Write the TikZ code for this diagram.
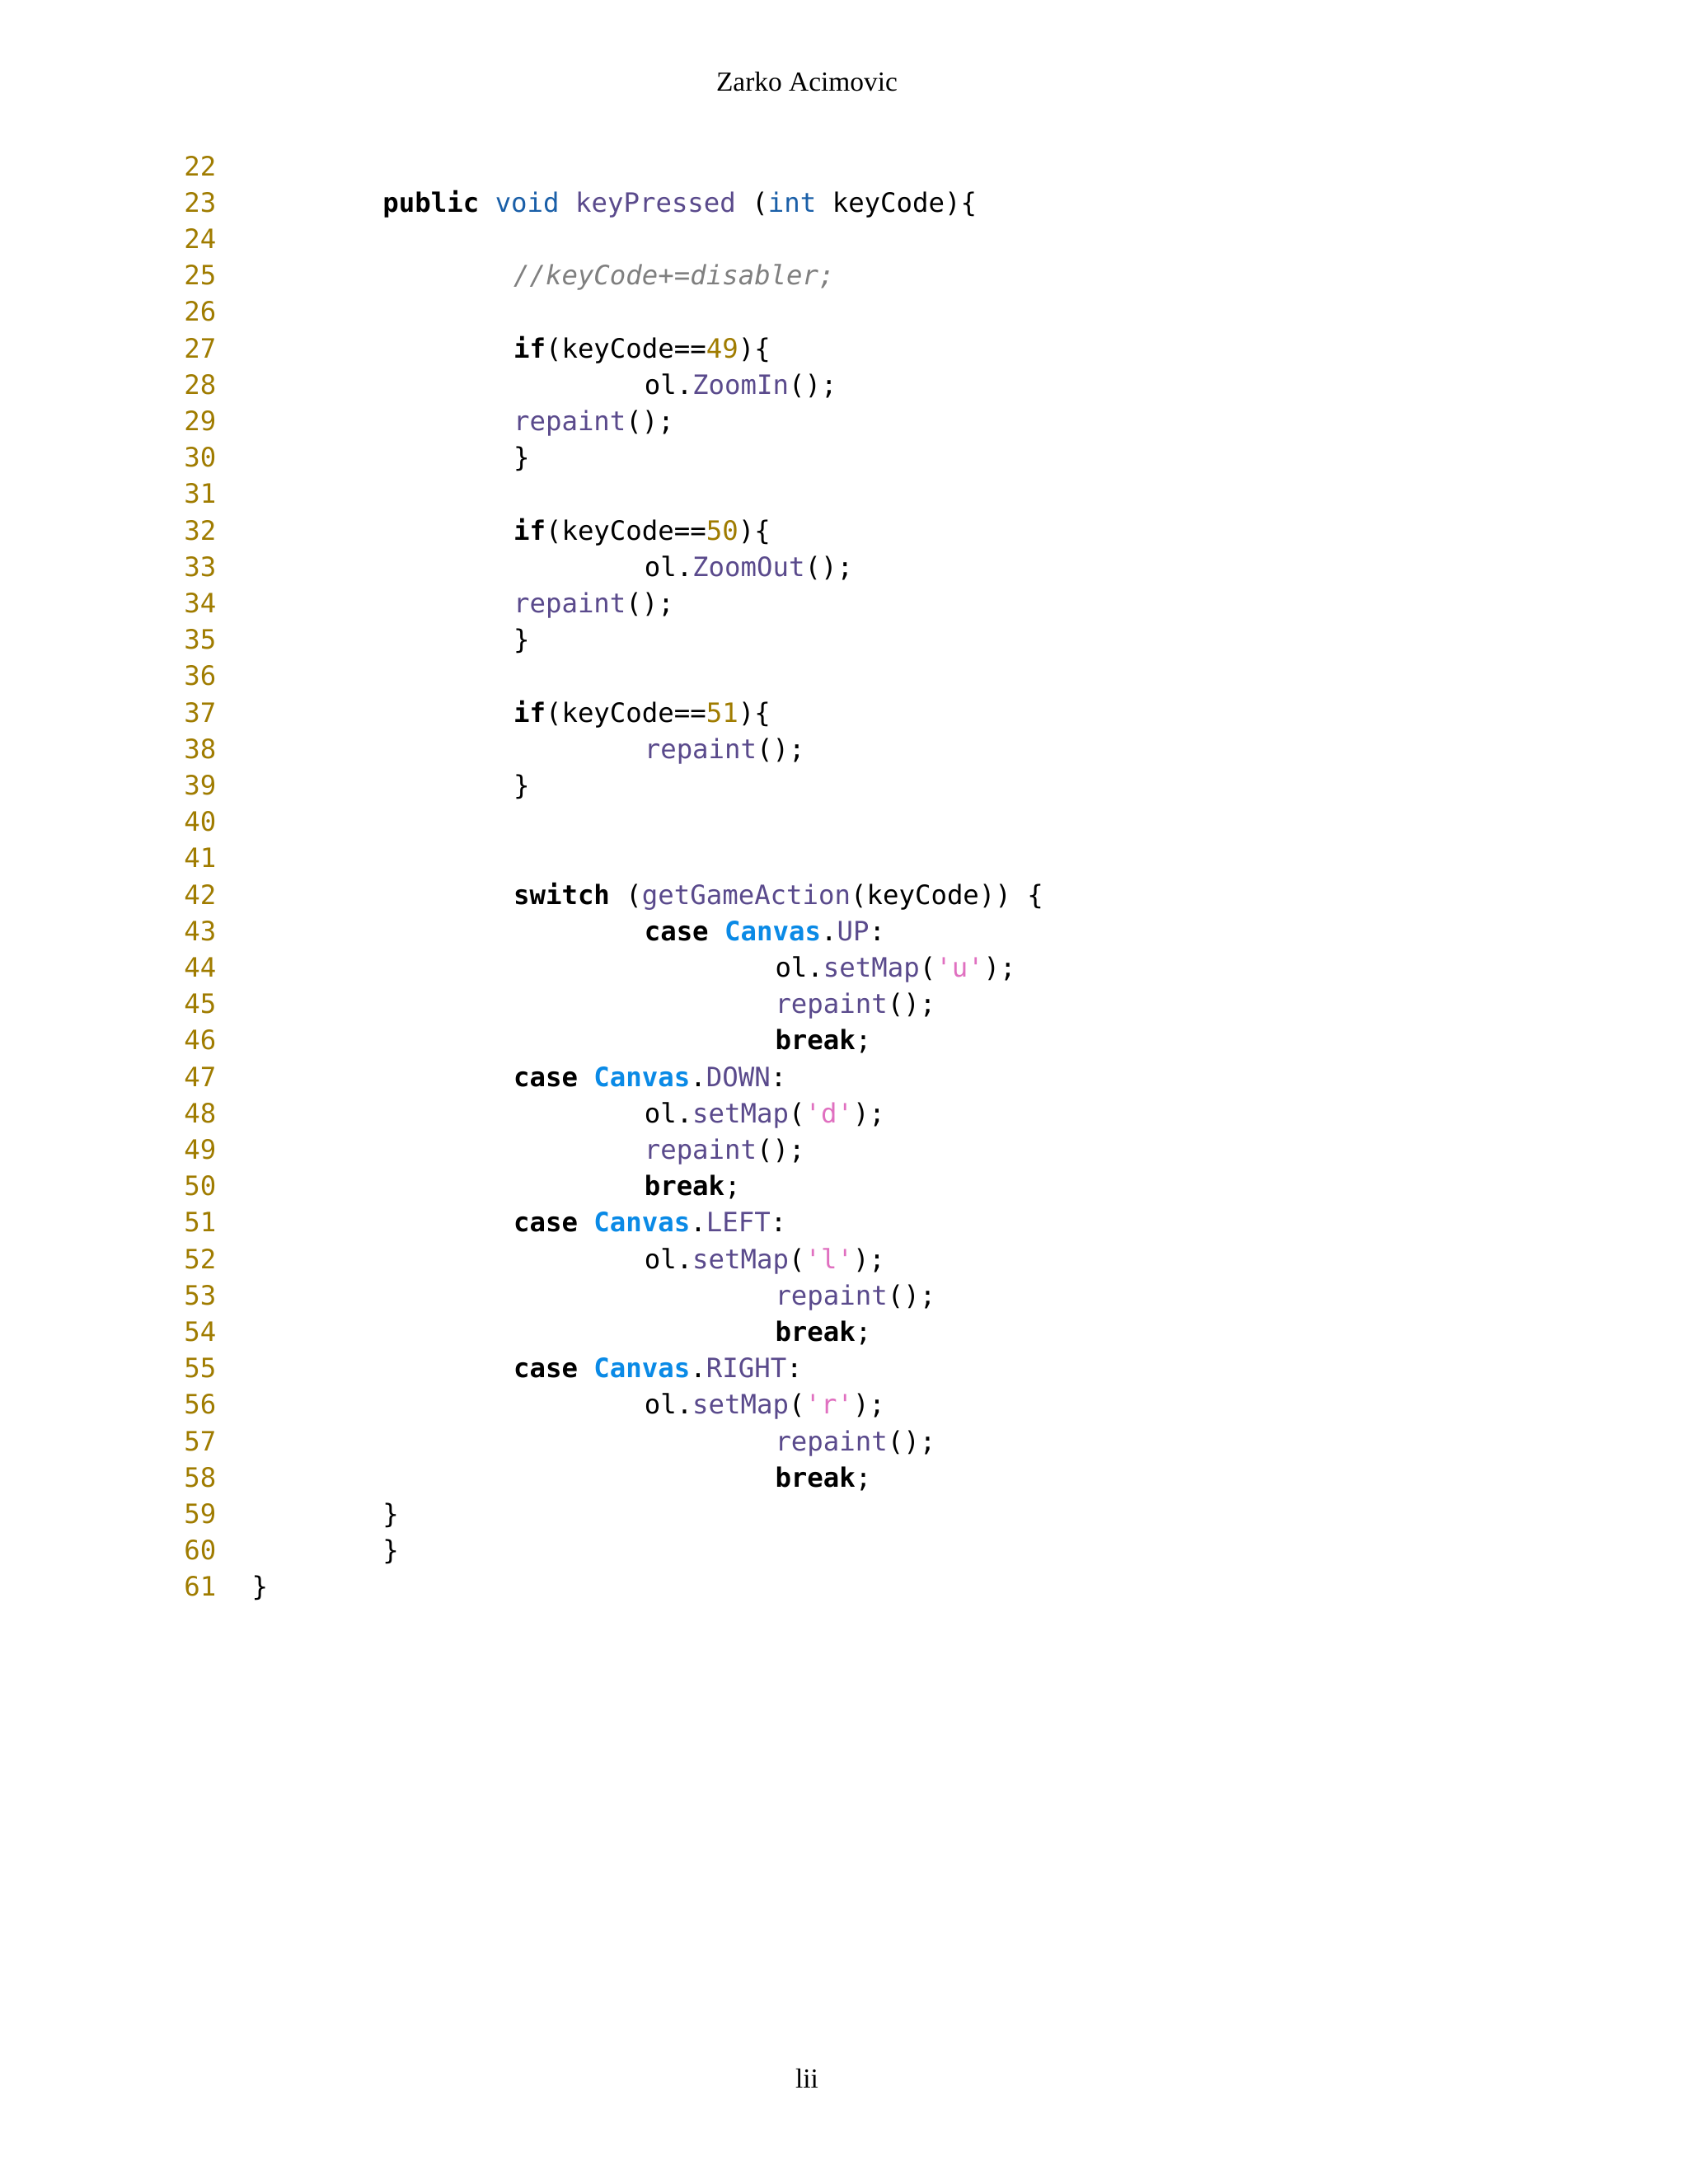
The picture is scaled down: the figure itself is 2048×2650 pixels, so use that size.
\documentclass[tikz,border=0pt]{standalone}
\usepackage{fontspec}
\setmainfont{Liberation Serif}
\newfontfamily\codefont{DejaVu Sans Mono}
\definecolor{lnc}{HTML}{A07C00}
\definecolor{tyc}{HTML}{1A5FA8}
\definecolor{fnc}{HTML}{5A4A8C}
\definecolor{cvc}{HTML}{0A8AE6}
\definecolor{stc}{HTML}{E070C0}
\definecolor{cmc}{HTML}{808080}
\newcommand\ckw[1]{\textbf{#1}}
\newcommand\cty[1]{\textcolor{tyc}{#1}}
\newcommand\cfn[1]{\textcolor{fnc}{#1}}
\newcommand\cnm[1]{\textcolor{lnc}{#1}}
\newcommand\ccv[1]{\textcolor{cvc}{\textbf{#1}}}
\newcommand\cst[1]{\textcolor{stc}{#1}}
\newcommand\ccm[1]{\textcolor{cmc}{\itshape #1}}
\begin{document}
\begin{tikzpicture}[x=0.01cm,y=-0.01cm,
  code/.style={anchor=base west,inner sep=0pt,font=\codefont\fontsize{9.2pt}{11pt}\selectfont},
  lnum/.style={anchor=base east,inner sep=0pt,text=lnc,font=\codefont\fontsize{9.2pt}{11pt}\selectfont},
  serif/.style={anchor=base,inner sep=0pt,font=\fontsize{9.5pt}{11pt}\selectfont}]
\useasboundingbox[fill=white] (0,0) rectangle (2048,2650);
\node[serif] (head) at (979,110) {Zarko Acimovic};
\node[serif] (foot) at (979,2533) {lii};
\foreach \n in {22,...,61}{
  \node[lnum] (n\n) at (263,{213+(\n-22)*44.2}) {\n};
}
\foreach \n/\l/\t in {
 23/1/{\ckw{public} \cty{void} \cfn{keyPressed} (\cty{int} keyCode)\{},
 25/2/{\ccm{//keyCode+=disabler;}},
 27/2/{\ckw{if}(keyCode==\cnm{49})\{},
 28/3/{ol.\cfn{ZoomIn}();},
 29/2/{\cfn{repaint}();},
 30/2/{\}},
 32/2/{\ckw{if}(keyCode==\cnm{50})\{},
 33/3/{ol.\cfn{ZoomOut}();},
 34/2/{\cfn{repaint}();},
 35/2/{\}},
 37/2/{\ckw{if}(keyCode==\cnm{51})\{},
 38/3/{\cfn{repaint}();},
 39/2/{\}},
 42/2/{\ckw{switch} (\cfn{getGameAction}(keyCode)) \{},
 43/3/{\ckw{case} \ccv{Canvas}.\cfn{UP}:},
 44/4/{ol.\cfn{setMap}(\cst{'u'});},
 45/4/{\cfn{repaint}();},
 46/4/{\ckw{break};},
 47/2/{\ckw{case} \ccv{Canvas}.\cfn{DOWN}:},
 48/3/{ol.\cfn{setMap}(\cst{'d'});},
 49/3/{\cfn{repaint}();},
 50/3/{\ckw{break};},
 51/2/{\ckw{case} \ccv{Canvas}.\cfn{LEFT}:},
 52/3/{ol.\cfn{setMap}(\cst{'l'});},
 53/4/{\cfn{repaint}();},
 54/4/{\ckw{break};},
 55/2/{\ckw{case} \ccv{Canvas}.\cfn{RIGHT}:},
 56/3/{ol.\cfn{setMap}(\cst{'r'});},
 57/4/{\cfn{repaint}();},
 58/4/{\ckw{break};},
 59/1/{\}},
 60/1/{\}},
 61/0/{\}}}{
  \node[code] (c\n) at ({305+\l*158.7},{213+(\n-22)*44.2}) {\t};
}
\end{tikzpicture}
\end{document}
